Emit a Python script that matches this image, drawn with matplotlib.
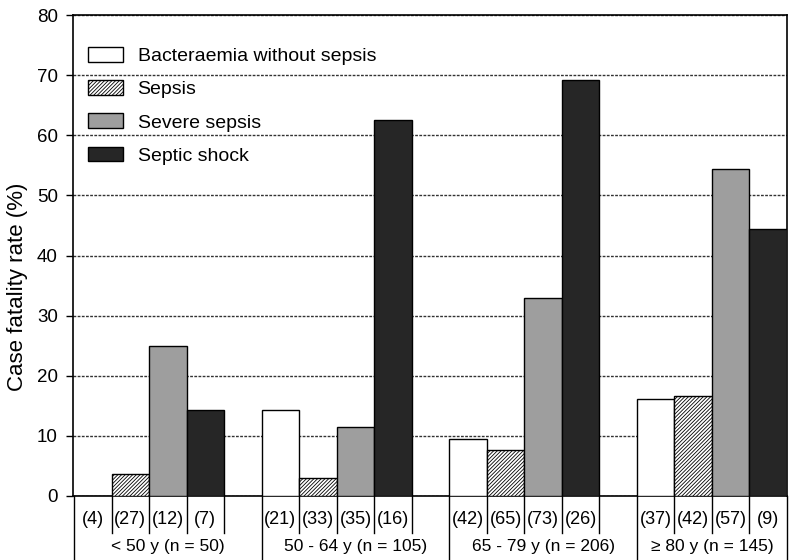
import numpy as np
import matplotlib
matplotlib.use('Agg')
import matplotlib.pyplot as plt

plt.rcParams['font.family'] = ['Liberation Sans', 'DejaVu Sans']
plt.rcParams['hatch.linewidth'] = 0.6

# Данные
groups = ['< 50 y (n = 50)', '50 - 64 y (n = 105)', '65 - 79 y (n = 206)', '\u2265 80 y (n = 145)']
series = ['Bacteraemia without sepsis', 'Sepsis', 'Severe sepsis', 'Septic shock']
rates = {
    'Bacteraemia without sepsis': [0.0, 14.3, 9.5, 16.2],
    'Sepsis': [3.7, 3.0, 7.7, 16.7],
    'Severe sepsis': [25.0, 11.4, 32.9, 54.4],
    'Septic shock': [14.3, 62.5, 69.2, 44.4],
}
counts = {
    'Bacteraemia without sepsis': [4, 21, 42, 37],
    'Sepsis': [27, 33, 65, 42],
    'Severe sepsis': [12, 35, 73, 57],
    'Septic shock': [7, 16, 26, 9],
}

styles = [
    dict(facecolor='white', hatch=None),
    dict(facecolor='white', hatch='/' * 9),
    dict(facecolor='#9e9e9e', hatch=None),
    dict(facecolor='#262626', hatch=None),
]

fig = plt.figure(figsize=(7.94, 5.60), dpi=100)
ax = fig.add_axes([73 / 794, 1 - 496 / 560, (787 - 73) / 794, (496 - 15) / 560])

x = np.arange(len(groups))
w = 0.2
offsets = [-0.3, -0.1, 0.1, 0.3]
for s, off, st in zip(series, offsets, styles):
    ax.bar(x + off, rates[s], width=w, edgecolor='black', linewidth=1,
           label=s, zorder=3, **st)

ax.set_xlim(-0.4053, 3.4)
ax.set_ylim(0, 80)
ax.set_yticks(range(0, 81, 10))
ax.tick_params(axis='y', direction='out', length=5, width=1, labelsize=13.5, pad=6)
ax.set_xticks([])
ax.yaxis.grid(True, linestyle=(0, (2, 1)), color='#333333', linewidth=1, zorder=0)
for sp in ax.spines.values():
    sp.set_linewidth(1.2)
ax.set_ylabel('Case fatality rate (%)', fontsize=16, va='center')
ax.yaxis.set_label_coords(-55 / 714, (496 - 287) / 481)

# Таблица под осью
tr = ax.get_xaxis_transform()
y_row = -37 / 481
y_bot = -64 / 481
for i in x:
    ax.plot([i - 0.4, i - 0.4], [0, y_bot], color='black', lw=1, transform=tr, clip_on=False)
    for e in [-0.2, 0.0, 0.2, 0.4]:
        yb = y_bot if (i == x[-1] and e == 0.4) else y_row
        ax.plot([i + e, i + e], [0, yb], color='black', lw=1, transform=tr, clip_on=False)
    for s, off in zip(series, offsets):
        ax.text(i + off, -23 / 481, f'({counts[s][i]})', transform=tr,
                ha='center', va='center', fontsize=13)
    right = min(i + 0.6, 3.4)
    ax.text((i - 0.4 + right) / 2, -50 / 481, groups[i], transform=tr,
            ha='center', va='center', fontsize=12.5)

ax.legend(loc='upper left', bbox_to_anchor=(15 / 714, 1 - 32 / 481), frameon=False,
          fontsize=14, handlelength=1.8, handleheight=0.8, handletextpad=0.75,
          labelspacing=0.77, borderpad=0, borderaxespad=0)

fig.savefig('out.png', dpi=100)
